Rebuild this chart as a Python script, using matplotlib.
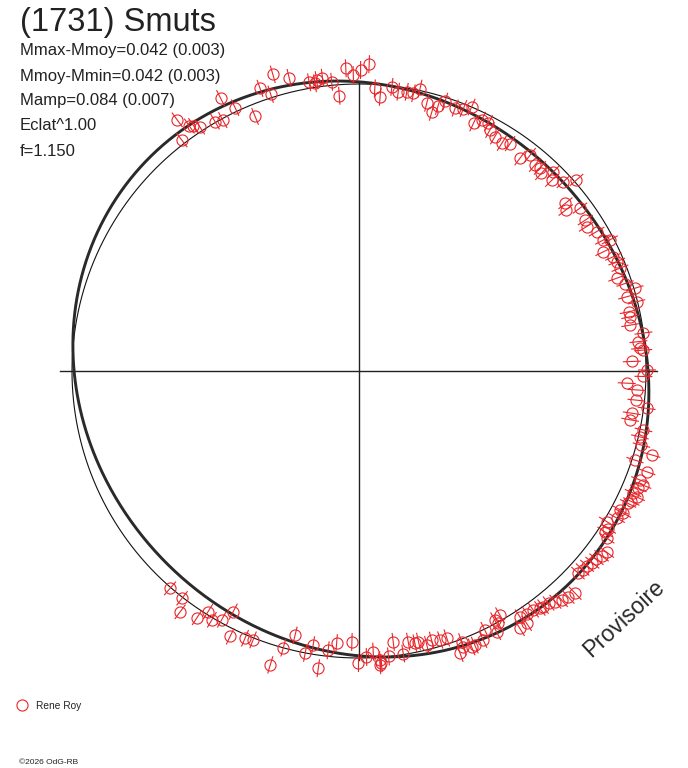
import numpy as np
import matplotlib
matplotlib.use("Agg")
import matplotlib.pyplot as plt
from matplotlib.collections import LineCollection

plt.rcParams['font.family'] = ['Liberation Sans', 'DejaVu Sans']

# polar angle of each measurement (deg, counter-clockwise from the right)
angle_deg = [
    # upper left arc
    125.9, 127.5, 124.7, 124.0, 123.1, 120.0, 116.9, 118.5, 115.2, 112.2,
    109.3, 107.7, 106.2, 103.4, 99.8, 98.7, 98.3, 97.1, 95.4, 94.1,
    92.5, 91.1, 89.7, 88.1, 86.8, 85.6,
    # upper right arc
    83.4, 82.0, 80.3, 78.9, 77.8, 75.8, 74.3, 73.4, 72.3, 69.9,
    68.3, 66.9, 65.2, 63.95, 62.4, 61.5, 59.9, 57.9, 56.4, 52.9,
    51.6, 49.5, 48.3, 47.3, 44.7, 45.7, 42.8, 41.3, 39.1, 37.9,
    36.4, 33.7, 32.4, 30.4, 27.6, 26.0,
    # right side
    28.2, 24.2, 23.0, 21.5, 19.8, 18.2, 16.7, 15.5, 14.0, 12.4,
    11.3, 9.6, 7.6, 6.0, 4.6, 4.2, 2.0, 0.2, -1.1, -2.6,
    -3.9, -6.0, -7.4, -8.8, -10.2, -11.7, -13.2, -14.7, -16.0, -17.9,
    -19.3,
    # lower right
    -21.2, -21.9, -22.8, -24.0, -24.4, -25.6, -26.2, -28.0, -28.3, -29.7,
    -31.3, -32.3, -33.2, -34.0, -36.2, -37.3, -38.4, -39.4, -40.5, -41.6,
    -42.7, -45.8, -47.2, -48.5, -49.6, -50.8, -52.0, -52.7, -53.9, -55.3,
    -56.8, -60.0, -61.4, -64.1, -65.2, -56.4, -58.0, -61.1, -62.2, -67.1,
    -67.8, -69.3, -69.2, -70.3, -71.8, -73.2, -74.9, -76.1, -77.6, -78.4,
    -79.7, -81.1, -82.8, -84.1, -85.8, -87.1, -88.5, -85.9,
    # bottom
    -103.6, -100.8, -99.5, -97.8, -96.3, -94.7, -91.5, -90.1, -85.6,
    # lower left
    -131.0, -127.9, -126.6, -123.3, -122.1, -120.6, -118.9, -117.6, -115.9, -113.1,
    -111.5, -106.8, -105.3,
]

# magnitude residual of each measurement (mag, positive = outward)
resid = [
    0.092, 0.016, 0.044, 0.036, 0.018, 0.004, 0.076, -0.006, 0.016, -0.048,
    0.050, 0.014, 0.088, 0.058, 0.024, 0.016, 0.028, 0.034, 0.014, -0.044,
    0.064, 0.036, 0.056, 0.080, -0.016, -0.048,
    -0.004, -0.020, -0.015, -0.016, 0.008, -0.042, -0.072, -0.042, -0.016, -0.028,
    -0.018, 0.000, -0.056, -0.030, -0.030, -0.051, -0.064, -0.072, -0.056, -0.080,
    -0.046, -0.064, -0.060, -0.072, -0.064, -0.036, -0.034, 0.010, -0.084, -0.100,
    -0.050, -0.060, -0.070, -0.046, -0.016, -0.060,
    -0.040, -0.032, -0.028, -0.026, -0.052, -0.028, 0.004, -0.036, -0.004, -0.044,
    -0.042, -0.048, 0.000, -0.024, -0.020, -0.008, -0.056, 0.004, -0.010, -0.076,
    -0.035, -0.032, 0.012, -0.044, -0.046, 0.014, 0.006, 0.020, 0.070, 0.012,
    0.072,
    0.056, 0.076, 0.064, 0.052, 0.072, 0.060, 0.052, 0.036, 0.052, 0.040,
    0.012, 0.032, 0.028, 0.048, 0.080, 0.072, 0.064, 0.060, 0.052, 0.048,
    0.044, 0.092, 0.084, 0.076, 0.064, 0.052, 0.048, 0.046, 0.036, 0.032,
    0.028, -0.020, -0.012, 0.004, 0.036, 0.064, 0.066, 0.004, 0.032, 0.042,
    0.044, 0.032, 0.010, 0.052, -0.024, -0.024, -0.032, -0.020, -0.040, -0.036,
    -0.048, -0.004, -0.056, 0.000, 0.012, -0.024, -0.004, 0.032,
    -0.060, 0.000, -0.036, 0.052, -0.024, -0.056, -0.064, 0.020, 0.024,
    0.004, 0.004, 0.052, 0.032, -0.012, 0.008, -0.012, -0.062, 0.032, 0.014,
    0.008, 0.080, 0.000,
]
err_mag = 0.036

# Fourier fit coefficients (mag): cos1, sin1, cos2, sin2
fit_a1, fit_b1, fit_a2, fit_b2 = 0.0083, 0.0086, 0.0, -0.048

stats = [
    "Mmax-Mmoy=0.042 (0.003)",
    "Mmoy-Mmin=0.042 (0.003)",
    "Mamp=0.084 (0.007)",
    "Eclat^1.00",
    "f=1.150",
]

# radius units per magnitude
K = 0.871

fig = plt.figure(figsize=(6.88, 7.68), dpi=100)
ax = fig.add_axes([0, 0, 1, 1])
R_PX = 287.0
cx, cy = 359.0, 371.0
ax.set_xlim(-cx / R_PX, (688 - cx) / R_PX)
ax.set_ylim(-(768 - cy) / R_PX, cy / R_PX)
ax.axis('off')

# axes cross
ax.plot([-1.042, 1.038], [0, 0], color='#222222', lw=1.0, zorder=1)
ax.plot([0, 0], [-1.007, 1.007], color='#222222', lw=1.0, zorder=1)

# reference circle
t = np.linspace(0, 2 * np.pi, 721)
ax.plot(np.cos(t), np.sin(t), color='#111111', lw=0.8, zorder=2)

# fitted curve
fit = (fit_a1 * np.cos(t) + fit_b1 * np.sin(t)
       + fit_a2 * np.cos(2 * t) + fit_b2 * np.sin(2 * t))
rf = 1 + K * fit
ax.plot(rf * np.cos(t), rf * np.sin(t), color='#2a2a2a', lw=2.1, zorder=3)

# measurements
th = np.radians(np.array(angle_deg))
rr = 1 + K * np.array(resid)
px = rr * np.cos(th)
py = rr * np.sin(th)
e = K * err_mag
segs = [[((r - e) * np.cos(a), (r - e) * np.sin(a)),
         ((r + e) * np.cos(a), (r + e) * np.sin(a))] for a, r in zip(th, rr)]
red = '#e8262a'
ax.add_collection(LineCollection(segs, colors=red, linewidths=0.8, zorder=4))
ax.plot(px, py, 'o', mfc='none', mec=red, ms=8, mew=0.8, zorder=5)

# texts
H = 768.0
fig.text(20 / 688, 1 - 22 / H, "(1731) Smuts", fontsize=23.5, color='#222222',
         va='center', ha='left')
for i, s in enumerate(stats):
    fig.text(20 / 688, 1 - (51 + 25 * i) / H, s, fontsize=12, color='#222222',
             va='center', ha='left')

fig.text(624 / 688, 1 - 619 / H, "Provisoire", fontsize=16.5, color='#2a2a2a',
         rotation=43, va='center', ha='center')

# legend
ax.plot([(22 - cx) / R_PX], [(cy - 705) / R_PX], 'o', mfc='none', mec=red,
        ms=8, mew=0.8, clip_on=False)
fig.text(36 / 688, 1 - 706 / H, "Rene Roy", fontsize=7.3, color='#222222',
         va='center', ha='left')
fig.text(19 / 688, 1 - 763 / H, "\u00a92026 OdG-RB", fontsize=6, color='#222222',
         va='center', ha='left')

fig.savefig("out.png", dpi=100)
